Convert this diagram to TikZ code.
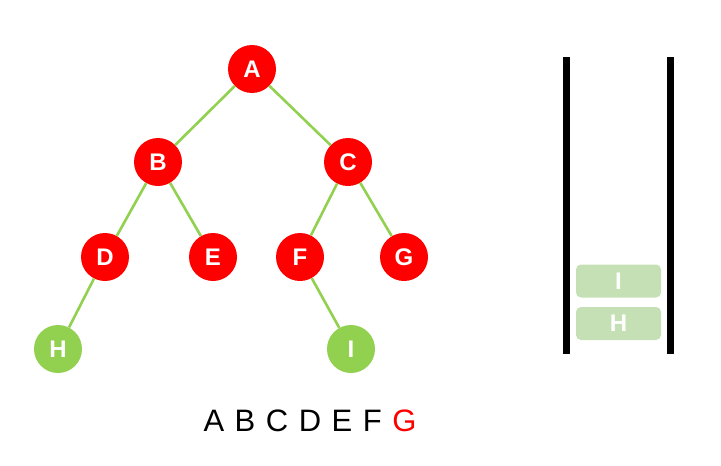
\documentclass[tikz,border=0pt]{standalone}
\usepackage{fontspec}
\setmainfont{Liberation Sans}
\usetikzlibrary{positioning}
\definecolor{visit}{HTML}{FF0000}
\definecolor{leaf}{HTML}{92D050}
\definecolor{stackfill}{HTML}{C5E0B4}

\tikzset{
  treenode/.style={circle, fill=visit, minimum size=48pt, inner sep=0pt,
        text=white, font=\fontsize{24}{24}\selectfont\bfseries},
  waitnode/.style={treenode, fill=leaf},
  treeedge/.style={leaf, line width=2.6pt},
  stackbox/.style={fill=stackfill, rounded corners=5pt, minimum width=85pt,
        minimum height=33pt, inner sep=0pt, text=white,
        font=\fontsize{24}{24}\selectfont\bfseries},
  stackwall/.style={line width=7pt}
}

\begin{document}
\begin{tikzpicture}[x=1pt, y=-1pt]
  \useasboundingbox (0,0) rectangle (721,466);
  % tree
  \node[treenode] (A) at (252,69) {A};
  \node[treenode] (B) at (158,162) {B};
  \node[treenode] (C) at (348,162) {C};
  \node[treenode] (D) at (105,257) {D};
  \node[treenode] (E) at (213,257) {E};
  \node[treenode] (F) at (300,257) {F};
  \node[treenode] (G) at (404,257) {G};
  \node[waitnode] (H) at (58,349) {H};
  \node[waitnode] (I) at (351,349) {I};
  \foreach \p/\c in {A/B, A/C, B/D, B/E, C/F, C/G, D/H, F/I}
    \draw[treeedge] (\p) -- (\c);
  % stack
  \coordinate (lt) at (566,57);
  \coordinate (lb) at (566,354);
  \coordinate (rt) at (670,57);
  \coordinate (rb) at (670,354);
  \draw[stackwall] (lt) -- (lb);
  \draw[stackwall] (rt) -- (rb);
  \node[stackbox] (sH) at (618.5,323.5) {H};
  \node[stackbox] (sI) at (618.5,281) {I};
  % output order
  \node[font=\fontsize{31}{31}\selectfont] (order) at (310,421)
    {\spaceskip=10.5pt A B C D E F \textcolor{visit}{G}};
\end{tikzpicture}
\end{document}
